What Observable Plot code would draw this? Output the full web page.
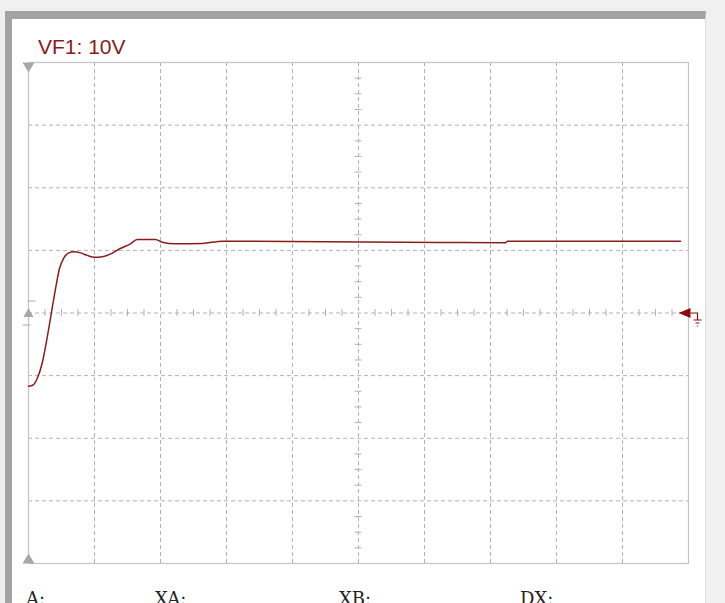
<!DOCTYPE html>
<html>
<head>
<meta charset="utf-8">
<script src="https://cdn.jsdelivr.net/npm/d3@7"></script>
<script src="https://cdn.jsdelivr.net/npm/@observablehq/plot@0.6"></script>
<style>
  html, body { margin: 0; padding: 0; background: #f0f0f0; overflow: hidden; }
  #page { position: relative; width: 725px; height: 603px; }
  #panel { position: absolute; left: 5px; top: 11px; width: 701px; height: 600px;
           box-sizing: border-box; background: #ffffff;
           border-left: 7px solid #a3a3a3; border-top: 8px solid #a3a3a3; border-right: 1px solid #dcdcdc; }
  #chart { position: absolute; left: 0; top: 0; }
  #chart svg { background: transparent !important; }
  #title { position: absolute; left: 38px; top: 37px; font: 21px/20px "Liberation Sans", Arial, sans-serif;
           color: #8b1c1c; white-space: nowrap; }
  .readout { position: absolute; top: 590px; font: 18px/18px "DejaVu Serif", serif; color: #222; white-space: nowrap; }
</style>
</head>
<body>
<div id="page">
  <div id="panel"></div>
  <div id="chart"></div>
  <div id="title">VF1: 10V</div>
  <div class="readout" style="left:26px">A:</div>
  <div class="readout" style="left:155px">XA:</div>
  <div class="readout" style="left:339px">XB:</div>
  <div class="readout" style="left:520px">DX:</div>
</div>
<script>
// Trace samples: time in horizontal divisions, voltage in volts (10 V/div)
const timeDiv = [0, 0.07, 0.13, 0.21, 0.28, 0.34, 0.41, 0.47, 0.53, 0.61, 0.69, 0.79, 0.89, 1.0, 1.12, 1.24, 1.39,
                 1.545, 1.647, 1.924, 2.026, 2.227, 2.632, 2.935, 3.212, 6.24, 7.227, 7.258, 9.879];
const volts   = [-11.7, -11.5, -10.5, -7.9, -4.1, -0.4, 3.9, 7.1, 8.7, 9.6, 9.8, 9.6, 9.2, 8.9, 9.0, 9.4, 10.3,
                 11.05, 11.74, 11.74, 11.31, 11.05, 11.1, 11.47, 11.47, 11.26, 11.21, 11.47, 11.47];

// Screen graticule
const xDivTicks = [1, 2, 3, 4, 5, 6, 7, 8, 9];
const yVoltTicks = [-30, -20, -10, 0, 10, 20, 30];
const xMinor = d3.range(0.25, 10, 0.25).filter(d => d % 1 !== 0);
const yMinor = d3.range(-37.5, 40, 2.5).filter(d => d % 10 !== 0);

const trace = timeDiv.map((t, i) => ({t, v: volts[i]}));

// Marker symbols (fixed pixel geometry)
const triDown = {draw(c) { c.moveTo(-6, 0); c.lineTo(6, 0); c.lineTo(0, 10); c.closePath(); }};
const triUp = {draw(c) { c.moveTo(-6, 0); c.lineTo(6, 0); c.lineTo(0, -10); c.closePath(); }};
const triMid = {draw(c) { c.moveTo(-5, 4); c.lineTo(5, 4); c.lineTo(0, -5); c.closePath(); }};
const levelTicks = {draw(c) { c.moveTo(-1, -12); c.lineTo(7, -12); c.moveTo(-6, 12); c.lineTo(2, 12); }};
const triLeft = {draw(c) { c.moveTo(-10, 0); c.lineTo(2, -5); c.lineTo(2, 5); c.closePath(); }};
const ground = {draw(c) {
  c.moveTo(2, 0); c.lineTo(9, 0); c.lineTo(9, 7);
  c.moveTo(5, 7); c.lineTo(13, 7);
  c.moveTo(7, 10); c.lineTo(11, 10);
  c.moveTo(8.5, 13); c.lineTo(9.5, 13);
}};

const gridColor = "#b2b2b2";
const minorHalfX = 3.5 / 66;      // half-length of minor ticks, in divisions
const minorHalfY = 3.5 / 62.6 * 10; // in volts

const plot = Plot.plot({
  width: 725,
  height: 603,
  marginLeft: 28,
  marginRight: 37,
  marginTop: 62,
  marginBottom: 40,
  style: {background: "transparent", overflow: "visible"},
  x: {domain: [0, 10], axis: null},
  y: {domain: [-40, 40], axis: null},
  marks: [
    Plot.ruleX(xDivTicks, {stroke: gridColor, strokeDasharray: "4,3", strokeWidth: 1}),
    Plot.ruleY(yVoltTicks, {stroke: gridColor, strokeDasharray: "4,3", strokeWidth: 1}),
    Plot.ruleX(xMinor, {x: d => d, y1: -minorHalfY, y2: minorHalfY, stroke: gridColor, strokeWidth: 1}),
    Plot.ruleY(yMinor, {y: d => d, x1: 5 - minorHalfX, x2: 5 + minorHalfX, stroke: gridColor, strokeWidth: 1}),
    Plot.frame({stroke: "#c4c4c4", strokeWidth: 1.2}),
    Plot.dot([{x: 0, y: 40}], {x: "x", y: "y", symbol: triDown, fill: "#a8a8a8", stroke: "none"}),
    Plot.dot([{x: 0, y: -40}], {x: "x", y: "y", symbol: triUp, fill: "#a8a8a8", stroke: "none"}),
    Plot.dot([{x: 0, y: 0}], {x: "x", y: "y", symbol: triMid, fill: "#a8a8a8", stroke: "none"}),
    Plot.dot([{x: 0, y: 0}], {x: "x", y: "y", symbol: levelTicks, fill: "none", stroke: "#a8a8a8", strokeWidth: 1}),
    Plot.line(trace, {x: "t", y: "v", stroke: "#8b1c1c", strokeWidth: 1.5, curve: "monotone-x"}),
    Plot.dot([{x: 10, y: 0}], {x: "x", y: "y", symbol: triLeft, fill: "#8b0a0a", stroke: "none"}),
    Plot.dot([{x: 10, y: 0}], {x: "x", y: "y", symbol: ground, fill: "none", stroke: "#8b0a0a", strokeWidth: 1.2})
  ]
});
document.getElementById("chart").appendChild(plot);
</script>
</body>
</html>
